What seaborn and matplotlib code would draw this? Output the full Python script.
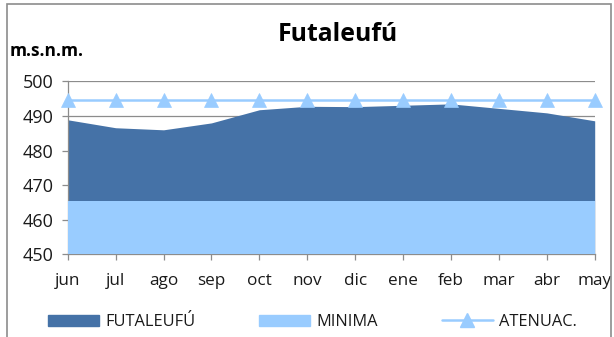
import matplotlib
matplotlib.use("Agg")
import matplotlib.pyplot as plt
import seaborn as sns
import pandas as pd
from matplotlib.patches import Rectangle
from matplotlib.lines import Line2D

meses = ["jun", "jul", "ago", "sep", "oct", "nov", "dic", "ene", "feb", "mar", "abr", "may"]
futaleufu = [488.9, 486.6, 486.0, 488.0, 491.8, 492.8, 492.7, 493.1, 493.5, 492.2, 490.9, 488.6]
minima = [465.3] * 12
atenuac = [494.6] * 12
y_ticks = [450, 460, 470, 480, 490, 500]

sns.set_theme(style="white")
plt.rcParams["font.family"] = ["Open Sans", "DejaVu Sans"]

dark = "#4572A7"
light = "#99CCFF"
grid_c = "#8c8c8c"
text_c = "#1a1a1a"

df = pd.DataFrame({"mes": meses, "x": range(len(meses)),
                   "FUTALEUFÚ": futaleufu, "MINIMA": minima, "ATENUAC.": atenuac})

fig = plt.figure(figsize=(6.14, 3.37), dpi=100)
ax = fig.add_axes([67.7 / 614, 1 - 254.3 / 337, (594.7 - 67.7) / 614, (254.3 - 81.4) / 337])

# areas drawn from the axis floor
ax.fill_between(df["x"], 450, df["FUTALEUFÚ"], color=dark, lw=0, zorder=2)
ax.fill_between(df["x"], 450, df["MINIMA"], color=light, lw=0, zorder=3)

sns.lineplot(data=df, x="x", y="ATENUAC.", ax=ax, color=light, lw=1.8,
             marker="^", markersize=9.5, markeredgecolor=light, markeredgewidth=0.5,
             zorder=4, legend=False, clip_on=False)

ax.set_xlim(0, len(meses) - 1)
ax.set_ylim(450, 500)
ax.set_yticks(y_ticks)
ax.set_yticklabels([str(v) for v in y_ticks], fontsize=13, color=text_c)
ax.set_xticks(range(len(meses)))
ax.set_xticklabels(meses, fontsize=12.3, color=text_c)
ax.set_xlabel("")
ax.set_ylabel("")
ax.grid(axis="y", color=grid_c, lw=0.9, zorder=1)
ax.set_axisbelow(True)
for s in ["top", "right"]:
    ax.spines[s].set_visible(False)
for s in ["left", "bottom"]:
    ax.spines[s].set_color(grid_c)
    ax.spines[s].set_linewidth(0.9)
ax.tick_params(axis="both", which="both", direction="out", length=4.3, width=0.9,
               color=grid_c, bottom=True, left=True)
ax.tick_params(axis="x", pad=9)
ax.tick_params(axis="y", pad=6)

fig.text(338 / 614, 1 - 40.7 / 337, "Futaleufú", ha="center", va="baseline",
         fontsize=17.8, fontweight="bold", color="#000000")
fig.text(10 / 614, 1 - 56 / 337, "m.s.n.m.", ha="left", va="baseline",
         fontsize=12.5, fontweight="bold", color="#000000")

# outer chart frame
fig.patches.append(Rectangle((7 / 614, -0.05), (611 - 7) / 614, 1.05 - 4 / 337,
                             transform=fig.transFigure, fill=False,
                             edgecolor="#8c8c8c", lw=1.2))

handles = [
    Rectangle((0, 0), 1, 1, color=dark),
    Rectangle((0, 0), 1, 1, color=light),
    Line2D([0], [0], color=light, lw=1.8, marker="^", markersize=9.5),
]
fig.legend(handles, ["FUTALEUFÚ", "MINIMA", "ATENUAC."], loc="center",
           bbox_to_anchor=(312.5 / 614, 1 - 322 / 337), ncol=3, frameon=False,
           fontsize=11.8, handlelength=3.1, handleheight=0.68, columnspacing=3.9,
           handletextpad=0.4, labelcolor=text_c)

fig.savefig("out.png", dpi=100)
